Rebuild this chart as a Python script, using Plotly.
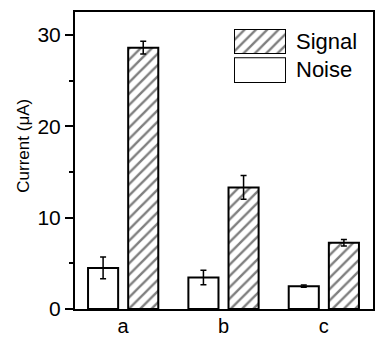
import plotly.graph_objects as go

categories = ["a", "b", "c"]
noise = [4.5, 3.45, 2.5]
noise_err = [1.2, 0.8, 0.12]
signal = [28.6, 13.3, 7.25]
signal_err = [0.7, 1.3, 0.35]
y_ticks = [0, 10, 20, 30]

FONT = "Liberation Sans, Arial, sans-serif"
hatch = dict(shape="/", fgcolor="black", bgcolor="white", size=8, solidity=0.3)

fig = go.Figure()
fig.add_bar(x=categories, y=noise, name="Noise", offset=-0.35, width=0.3,
            marker=dict(color="white", line=dict(color="black", width=2)),
            error_y=dict(type="data", array=noise_err, color="black", thickness=1.5, width=3))
fig.add_bar(x=categories, y=signal, name="Signal", offset=0.05, width=0.3,
            marker=dict(color="white", pattern=hatch, line=dict(color="black", width=2)),
            error_y=dict(type="data", array=signal_err, color="black", thickness=1.5, width=3))

# manual legend boxes
fig.add_bar(x=[0.5], y=[1], width=1, xaxis="x2", yaxis="y2", showlegend=False, hoverinfo="skip",
            marker=dict(color="white", pattern=hatch, line=dict(color="black", width=2)))
fig.add_bar(x=[0.5], y=[1], width=1, xaxis="x3", yaxis="y3", showlegend=False, hoverinfo="skip",
            marker=dict(color="white", line=dict(color="black", width=2)))

hidden = dict(visible=False, fixedrange=True)
fig.update_layout(
    width=376, height=337,
    margin=dict(l=75, r=3, t=12, b=28),
    paper_bgcolor="white", plot_bgcolor="white",
    showlegend=False,
    font=dict(family=FONT, color="black", size=21),
    xaxis=dict(range=[-0.48, 2.49], showline=True, linecolor="black", linewidth=2, mirror=True,
               ticks="", showgrid=False, zeroline=False, tickfont=dict(size=20), automargin=False,
               ticklabelstandoff=-2),
    yaxis=dict(range=[0, 32.5], tickvals=y_ticks, showline=True, linecolor="black", linewidth=2,
               mirror=True, ticks="outside", ticklen=8, tickwidth=1.5, tickcolor="black",
               showgrid=False, zeroline=False, tickfont=dict(size=21), automargin=False,
               minor=dict(dtick=5, ticks="outside", ticklen=4, tickwidth=1.5, tickcolor="black")),
    xaxis2=dict(domain=[0.5336, 0.708], range=[0, 1], anchor="y2", **hidden),
    yaxis2=dict(domain=[0.859, 0.943], range=[0, 1], anchor="x2", **hidden),
    xaxis3=dict(domain=[0.5336, 0.708], range=[0, 1], anchor="y3", **hidden),
    yaxis3=dict(domain=[0.761, 0.848], range=[0, 1], anchor="x3", **hidden),
    annotations=[
        dict(text="Current (μA)", x=-0.171, y=0.55, xref="paper", yref="paper",
             xanchor="center", yanchor="middle", textangle=-90, showarrow=False,
             font=dict(size=17)),
        dict(text="Signal", x=0.735, y=0.90, xref="paper", yref="paper", xanchor="left",
             yanchor="middle", showarrow=False, font=dict(size=22)),
        dict(text="Noise", x=0.735, y=0.805, xref="paper", yref="paper", xanchor="left",
             yanchor="middle", showarrow=False, font=dict(size=22)),
    ],
)

fig.write_html("out.html")
